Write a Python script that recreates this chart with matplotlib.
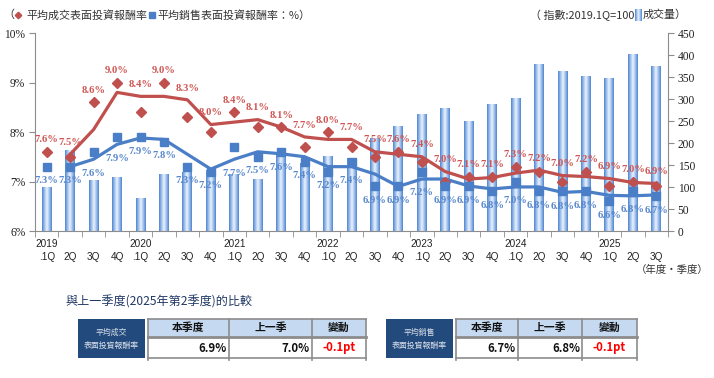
import numpy as np
import matplotlib
matplotlib.use('Agg')
import matplotlib.pyplot as plt
from matplotlib import font_manager
from matplotlib.colors import LinearSegmentedColormap
from matplotlib.patches import Rectangle
from matplotlib.lines import Line2D

# ---------------- data ----------------
tick_labels = ['2019\n.1Q', '\n2Q', '\n3Q', '\n4Q',
               '2020\n.1Q', '\n2Q', '\n3Q', '\n4Q',
               '2021\n.1Q', '\n2Q', '\n3Q', '\n4Q',
               '2022\n.1Q', '\n2Q', '\n3Q', '\n4Q',
               '2023\n.1Q', '\n2Q', '\n3Q', '\n4Q',
               '2024\n.1Q', '\n2Q', '\n3Q', '\n4Q',
               '2025\n.1Q', '\n2Q', '\n3Q']

deal_yield = [7.6, 7.5, 8.6, 9.0, 8.4, 9.0, 8.3, 8.0, 8.4, 8.1, 8.1, 7.7, 8.0, 7.7,
              7.5, 7.6, 7.4, 7.0, 7.1, 7.1, 7.3, 7.2, 7.0, 7.2, 6.9, 7.0, 6.9]
deal_trend = [np.nan, 7.55, 8.05, 8.8, 8.72, 8.72, 8.65, 8.15, 8.2, 8.25, 8.1, 7.9, 7.85, 7.85,
              7.6, 7.55, 7.5, 7.2, 7.05, 7.08, 7.17, 7.23, 7.12, 7.1, 7.06, 6.98, 6.96]
sales_yield = [7.3, 7.3, 7.6, 7.9, 7.9, 7.8, 7.3, 7.2, 7.7, 7.5, 7.6, 7.4, 7.2, 7.4,
               6.9, 6.9, 7.2, 6.9, 6.9, 6.8, 7.0, 6.8, 6.8, 6.8, 6.6, 6.8, 6.7]
sales_trend = [np.nan, 7.3, 7.45, 7.75, 7.88, 7.85, 7.55, 7.25, 7.45, 7.6, 7.56, 7.5, 7.3, 7.3,
               7.15, 6.9, 7.05, 7.05, 6.91, 6.85, 6.89, 6.89, 6.78, 6.8, 6.72, 6.71, 6.73]
volume_index = [100, 184, 115, 123, 76, 129, 133, 139, 130, 118, 177, 154, 170, 167,
                211, 239, 265, 280, 251, 289, 302, 379, 364, 352, 347, 402, 375]

table_titles = ['平均成交\n表面投資報酬率', '平均銷售\n表面投資報酬率']
table_headers = ['本季度', '上一季', '變動']
this_quarter = [6.9, 6.7]
last_quarter = [7.0, 6.8]
change_pt = [-0.1, -0.1]

# ---------------- style ----------------
plt.rcParams['font.family'] = ['Noto Sans CJK TC', 'DejaVu Sans']
names = {f.name for f in font_manager.fontManager.ttflist}
XFONT = 'Liberation Sans Narrow' if 'Liberation Sans Narrow' in names else 'Liberation Sans'
SERIF = 'Liberation Serif'

RED = '#C0504D'
RED_TXT = '#CF5552'
BLUE = '#4A7EC6'
BLUE_TXT = '#5887CC'
GREY = '#8C8C8C'

W, H = 714, 378
fig = plt.figure(figsize=(W / 100, H / 100), dpi=100)


def fx(px):
    return px / W


def fy(py):
    return 1 - py / H


L, R, T, B = 35, 668, 33, 231
rect = [fx(L), fy(B), (R - L) / W, (B - T) / H]
ax_bar = fig.add_axes(rect)
ax = fig.add_axes(rect, sharex=ax_bar)
ax.patch.set_visible(False)

x = np.arange(len(tick_labels))

# ---- bars with cylinder gradient ----
cmap = LinearSegmentedColormap.from_list(
    'cyl', ['#4C84D0', '#9DBFEC', '#EEF4FC', '#9DBFEC', '#4C84D0'])
grad = np.linspace(0, 1, 128).reshape(1, -1)
bars = ax_bar.bar(x, volume_index, width=0.42, color='none', edgecolor='none')
for b in bars:
    im = ax_bar.imshow(grad, extent=[b.get_x(), b.get_x() + b.get_width(), 0, b.get_height()],
                       aspect='auto', cmap=cmap, interpolation='bilinear', zorder=1)
    im.set_clip_path(b)
ax_bar.set_xlim(-0.5, len(x) - 0.5)
ax_bar.set_ylim(0, 450)
ax_bar.yaxis.tick_right()
ax_bar.set_yticks(np.arange(0, 451, 50))
ax_bar.set_yticklabels([str(v) for v in range(0, 451, 50)], fontfamily=SERIF, fontsize=8.3)
ax_bar.tick_params(axis='y', direction='out', length=4, color=GREY, pad=3, labelcolor='#222222')
for s in ['top', 'left']:
    ax_bar.spines[s].set_visible(False)
ax_bar.spines['right'].set_color(GREY)
ax_bar.spines['bottom'].set_color(GREY)

ax_bar.set_xticks(x)
ax_bar.set_xticklabels(tick_labels, fontfamily=XFONT, fontsize=7.2, linespacing=1.3)
ax_bar.set_xticks(np.arange(-0.5, len(x)), minor=True)
ax_bar.tick_params(axis='x', which='major', length=0, pad=6, labelcolor='#222222')
ax_bar.tick_params(axis='x', which='minor', length=4, color=GREY, direction='out')

# ---- lines ----
ax.plot(x, deal_trend, color=RED, lw=2.3, zorder=3, solid_capstyle='round')
ax.plot(x, deal_yield, ls='none', marker='D', ms=5.2, color=RED, zorder=4)
ax.plot(x, sales_trend, color=BLUE, lw=2.3, zorder=3, solid_capstyle='round')
ax.plot(x, sales_yield, ls='none', marker='s', ms=5.2, color=BLUE, zorder=4)

ax.set_ylim(6, 10)
ax.set_yticks([6, 7, 8, 9, 10])
ax.set_yticklabels([f'{v}%' for v in [6, 7, 8, 9, 10]], fontfamily=SERIF, fontsize=8.3)
ax.tick_params(axis='y', direction='out', length=4, color=GREY, pad=3, labelcolor='#222222')
ax.tick_params(axis='x', which='both', bottom=False, labelbottom=False)
for s in ['top', 'right', 'bottom']:
    ax.spines[s].set_visible(False)
ax.spines['left'].set_color(GREY)

for i in range(len(x)):
    dv, dt = deal_yield[i], deal_trend[i]
    top = dv if np.isnan(dt) else max(dv, dt)
    ax.annotate(f'{dv:.1f}%', (i, top), xytext=(0, 8.5), textcoords='offset points',
                ha='center', va='center', color=RED_TXT, fontfamily=SERIF,
                fontsize=7.6, fontweight='bold', zorder=5)
    sv, st = sales_yield[i], sales_trend[i]
    low = sv if np.isnan(st) else min(sv, st)
    ax.annotate(f'{sv:.1f}%', (i, low), xytext=(0, -10), textcoords='offset points',
                ha='center', va='center', color=BLUE_TXT, fontfamily=SERIF,
                fontsize=7.6, fontweight='bold', zorder=5)

# ---- legends / captions ----
LY = 15
fig.text(fx(3), fy(LY), '（', fontsize=7.9, va='center', ha='left', color='#333333')
fig.add_artist(Line2D([fx(18)], [fy(LY)], marker='D', ms=3.3, color=RED, transform=fig.transFigure))
fig.text(fx(26), fy(LY), '平均成交表面投資報酬率', fontsize=7.9, va='center', ha='left', color='#333333')
fig.add_artist(Line2D([fx(152)], [fy(LY)], marker='s', ms=3.8, color=BLUE, transform=fig.transFigure))
fig.text(fx(157), fy(LY), '平均銷售表面投資報酬率：%）', fontsize=7.9, va='center', ha='left', color='#333333')

fig.text(fx(634), fy(LY), '（ 指數:2019.1Q=100', fontsize=7.9, va='center', ha='right', color='#333333')
icon = fig.add_axes([fx(635), fy(21), 7 / W, 12 / H])
icon.imshow(grad, aspect='auto', cmap=cmap, interpolation='bilinear')
icon.axis('off')
fig.text(fx(643), fy(LY), '成交量）', fontsize=7.9, va='center', ha='left', color='#333333')

fig.text(fx(709), fy(270), '（年度‧季度）', fontsize=7.5, va='center', ha='right', color='#333333')

fig.text(fx(65), fy(302), '與上一季度(2025年第2季度)的比較', fontsize=8.7, va='center', ha='left',
         color='#203864')

# ---- comparison tables ----
TOP, MID, BOT = 319, 337, 358
boxes = [(78, 145), (386, 453)]
cols = [[148, 229, 312, 366], [456, 518, 582, 637]]


def hline(x0, x1, y, lw):
    fig.add_artist(Line2D([fx(x0), fx(x1)], [fy(y), fy(y)], transform=fig.transFigure,
                          color=GREY, lw=lw))


def vline(xx, y0, y1, lw):
    fig.add_artist(Line2D([fx(xx), fx(xx)], [fy(y0), fy(y1)], transform=fig.transFigure,
                          color=GREY, lw=lw))


for k in range(2):
    bx0, bx1 = boxes[k]
    fig.add_artist(Rectangle((fx(bx0), fy(BOT)), (bx1 - bx0) / W, (BOT - TOP) / H,
                             facecolor='#234A7D', edgecolor='none', transform=fig.transFigure))
    fig.text(fx((bx0 + bx1) / 2), fy((TOP + BOT) / 2 + 0.5), table_titles[k], fontsize=5.7,
             color='#D8DFEA', ha='center', va='center', linespacing=1.6)
    c = cols[k]
    fig.add_artist(Rectangle((fx(c[0]), fy(MID)), (c[-1] - c[0]) / W, (MID - TOP) / H,
                             facecolor='#C5D9F1', edgecolor='none', transform=fig.transFigure))
    hline(c[0], c[-1], TOP, 1.2)
    hline(c[0], c[-1], MID, 2.0)
    hline(c[0], c[-1], BOT, 1.2)
    for j, xx in enumerate(c):
        vline(xx, TOP, BOT + 2, 1.2)
    for j in range(3):
        fig.text(fx((c[j] + c[j + 1]) / 2), fy((TOP + MID) / 2), table_headers[j], fontsize=7.8,
                 fontweight='bold', ha='center', va='center', color='#111111')
    ry = fy((MID + BOT) / 2 + 0.5)
    fig.text(fx(c[1] - 2), ry, f'{this_quarter[k]:.1f}%', fontsize=8.2, fontweight='bold',
             ha='right', va='center', color='#111111')
    fig.text(fx(c[2] - 2), ry, f'{last_quarter[k]:.1f}%', fontsize=8.2, fontweight='bold',
             ha='right', va='center', color='#111111')
    fig.text(fx((c[2] + c[3]) / 2), ry, f'{change_pt[k]:+.1f}pt', fontsize=8.2, fontweight='bold',
             ha='center', va='center', color='#FF0000')

fig.savefig('out.png', dpi=100)
